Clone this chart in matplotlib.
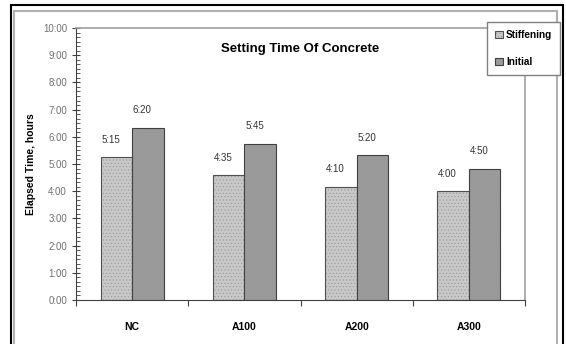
import numpy as np
import matplotlib.pyplot as plt
from matplotlib.patches import Rectangle
from matplotlib.ticker import MultipleLocator, FuncFormatter

plt.rcParams['font.family'] = ['Liberation Sans', 'DejaVu Sans']
plt.rcParams['hatch.linewidth'] = 0.4

mixes = ['NC', 'A100', 'A200', 'A300']
stiffening = ['5:15', '4:35', '4:10', '4:00']
initial = ['6:20', '5:45', '5:20', '4:50']


def to_hours(s):
    h, m = s.split(':')
    return int(h) + int(m) / 60.0


stiff_h = np.array([to_hours(s) for s in stiffening])
init_h = np.array([to_hours(s) for s in initial])

W, H = 566, 344
fig = plt.figure(figsize=(W / 100, H / 100), dpi=100)

# outer frame (black) and inner frame (grey)
fig.patches.append(Rectangle((11 / W, -0.1), 552 / W, 1.1 - 5 / H, transform=fig.transFigure,
                             fill=False, edgecolor='black', linewidth=1.5))
fig.patches.append(Rectangle((14 / W, -0.1), 543 / W, 1.1 - 11 / H, transform=fig.transFigure,
                             fill=False, edgecolor='#b0b0b0', linewidth=1.5))

ax = fig.add_axes([76 / W, 1 - 300 / H, 449 / W, 272 / H])

x = np.arange(len(mixes))
w = 0.28
b1 = ax.bar(x - w / 2, stiff_h, w, color='#c8c8c8', edgecolor='#505050', linewidth=0.8,
            hatch='.....', label='Stiffening')
b2 = ax.bar(x + w / 2, init_h, w, color='#9a9a9a', edgecolor='#404040', linewidth=0.8,
            hatch='.....', label='Initial')
for bars in (b1, b2):
    for p in bars:
        p._hatch_color = (0.6, 0.6, 0.6, 1.0)

for xi, v, s in zip(x - w / 2, stiff_h, stiffening):
    ax.text(xi - 0.05, v + 0.45, s, ha='center', va='bottom', fontsize=7, color='#333333')
for xi, v, s in zip(x + w / 2, init_h, initial):
    ax.text(xi - 0.05, v + 0.45, s, ha='center', va='bottom', fontsize=7, color='#333333')

ax.set_xlim(-0.5, len(mixes) - 0.5)
ax.set_ylim(0, 10)
ax.yaxis.set_major_locator(MultipleLocator(1))
ax.yaxis.set_minor_locator(MultipleLocator(1 / 6))
ax.yaxis.set_major_formatter(FuncFormatter(lambda v, p: '%d:00' % round(v)))
ax.tick_params(axis='y', which='major', direction='inout', length=6, width=0.8,
               labelsize=7, labelcolor='#707070', color='#404040')
ax.tick_params(axis='y', which='minor', direction='in', length=3, width=0.6, color='#404040')

ax.set_xticks(np.arange(len(mixes) + 1) - 0.5, minor=True)
ax.set_xticks(x)
ax.set_xticklabels(mixes, fontsize=7.5, fontweight='bold')
ax.tick_params(axis='x', which='major', length=0, pad=16)
ax.tick_params(axis='x', which='minor', direction='out', length=4, width=0.8, color='#404040')

for side in ('left', 'bottom'):
    ax.spines[side].set_color('#404040')
for side in ('top', 'right'):
    ax.spines[side].set_color('#a0a0a0')
    ax.spines[side].set_linewidth(1.2)

ax.set_ylabel('Elapsed Time, hours', fontsize=7.5, fontweight='bold', labelpad=5)
ax.text(0.5, 0.945, 'Setting Time Of Concrete', transform=ax.transAxes, ha='center',
        va='top', fontsize=9.5, fontweight='bold')

leg = fig.legend(handles=[b1, b2], loc='upper left', bbox_to_anchor=(487 / W, 1 - 22 / H),
                 fontsize=7.2, frameon=True, fancybox=False, edgecolor='#808080',
                 handlelength=0.8, handleheight=0.8, labelspacing=1.7, borderpad=0.8,
                 handletextpad=0.3, borderaxespad=0, framealpha=1)
leg._legend_box.sep = 0
for t in leg.get_texts():
    t.set_fontweight('bold')

fig.savefig('out.png', dpi=100)
